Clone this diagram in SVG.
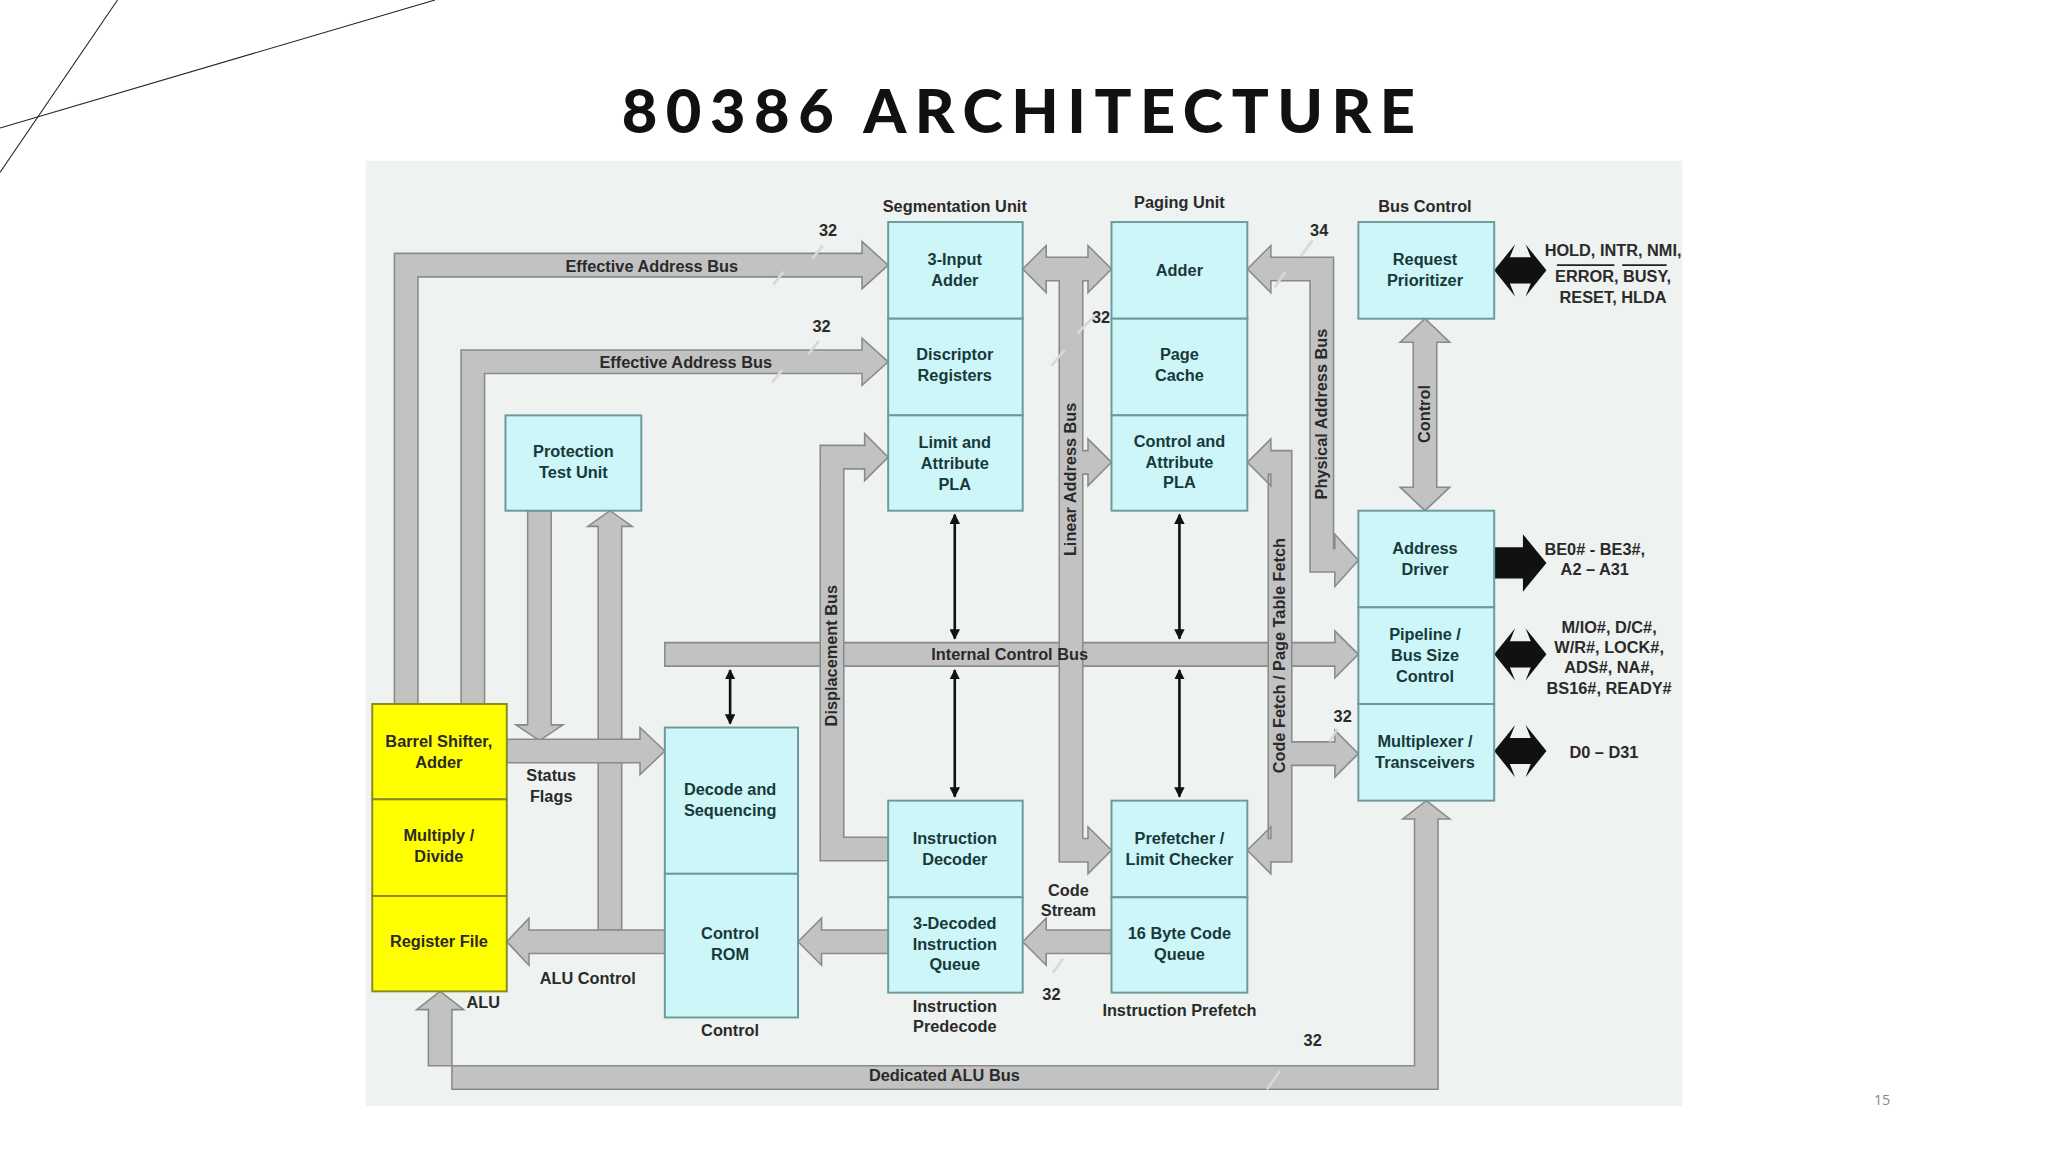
<svg xmlns="http://www.w3.org/2000/svg" width="2048" height="1152" viewBox="0 0 2048 1152">
<style>
.bx{fill:#ccf6f7;stroke:#6c9a9a;stroke-width:1.5}
.yb{fill:#ffff00;stroke:#8a8a20;stroke-width:1.5}
.bus{fill:#c2c2c2;stroke:#8a8a8a;stroke-width:1.2}
.blk{fill:#111;stroke:none}
.t{font-family:"Liberation Sans",Arial,sans-serif;font-weight:bold;font-size:12.5px;fill:#2a2a2a;text-anchor:middle}
.bt{font-family:"Liberation Sans",Arial,sans-serif;font-weight:bold;font-size:12.5px;fill:#18393a;text-anchor:middle}
.ln{stroke:#111;stroke-width:2;fill:none}
.tick{stroke:#d8d8d8;stroke-width:2}
</style>
<defs>
<marker id="ah" viewBox="0 0 10 10" refX="9" refY="5" markerWidth="4" markerHeight="4" orient="auto-start-reverse"><path d="M0,0L10,5L0,10z" fill="#111"/></marker>
</defs>
<rect width="2048" height="1152" fill="#fff"/>
<g transform="scale(1.30612)">
<line x1="90" y1="0" x2="0" y2="132" stroke="#222" stroke-width="0.8"/>
<line x1="333" y1="0" x2="0" y2="98" stroke="#222" stroke-width="0.8"/>
<text x="783" y="102" font-family="Lato,'Open Sans',sans-serif" font-weight="900" font-size="47" letter-spacing="6.5" text-anchor="middle" fill="#111">80386 ARCHITECTURE</text>
<text x="1441" y="846" font-family="'Open Sans',sans-serif" font-size="11" fill="#888" text-anchor="middle">15</text>
<rect x="280" y="123" width="1008" height="724" fill="#eef2f0"/>

<g id="connectors">
<polygon class="bus" points="302,539 302,194 660,194 660,185 680,203 660,221 660,212 320,212 320,539"/>
<polygon class="bus" points="353,539 353,268 660,268 660,259 680,277 660,295 660,286 371,286 371,539"/>
<polygon class="bus" points="404,391 422,391 422,555 431,555 413,567 395,555 404,555"/>
<polygon class="bus" points="458,712 458,403 450,403 467,391 484,403 476,403 476,712"/>
<polygon class="bus" points="509,712 509,730 405,730 405,739 388,721 405,703 405,712"/>
<polygon class="bus" points="388,566 490,566 490,557 509,575 490,593 490,584 388,584"/>
<polygon class="bus" points="509,492 1022,492 1022,483 1040,501 1022,519 1022,510 509,510"/>
<polygon class="bus" points="680,641 680,659 628,659 628,341 662,341 662,332 680,350 662,368 662,359 646,359 646,641"/>
<polygon class="bus" points="783,206 801,188 801,197 833,197 833,188 851,206 833,224 833,215 829,215 829,345 833,345 833,336 851,354 833,372 833,363 829,363 829,642 833,642 833,633 851,651 833,669 833,660 811,660 811,215 801,215 801,224"/>
<polygon class="bus" points="955,206 973,188 973,197 1021,197 1021,420 1022,420 1022,409 1040,429 1022,449 1022,438 1003,438 1003,215 973,215 973,224"/>
<polygon class="bus" points="955,354 973,336 973,345 989,345 989,568 1022,568 1022,559 1040,577 1022,595 1022,586 989,586 989,660 973,660 973,669 955,651 973,633 973,642 971,642 971,363 973,363 973,372"/>
<polygon class="bus" points="1091,244 1110,262 1100,262 1100,373 1110,373 1091,391 1072,373 1082,373 1082,262 1072,262"/>
<polygon class="bus" points="1092,613 1110,627 1101,627 1101,834 346,834 346,773 355,773 337,759 319,773 328,773 328,816 1083,816 1083,627 1074,627"/>
<polygon class="bus" points="851,712 851,730 801,730 801,739 783,721 801,703 801,712"/>
<polygon class="bus" points="680,712 680,730 629,730 629,739 611,721 629,703 629,712"/>
<line class="ln" x1="731" y1="394" x2="731" y2="489" marker-start="url(#ah)" marker-end="url(#ah)"/>
<line class="ln" x1="731" y1="513" x2="731" y2="610" marker-start="url(#ah)" marker-end="url(#ah)"/>
<line class="ln" x1="903" y1="394" x2="903" y2="489" marker-start="url(#ah)" marker-end="url(#ah)"/>
<line class="ln" x1="903" y1="513" x2="903" y2="610" marker-start="url(#ah)" marker-end="url(#ah)"/>
<line class="ln" x1="559" y1="513" x2="559" y2="554" marker-start="url(#ah)" marker-end="url(#ah)"/>
<polygon class="blk" points="1144,207 1160,187 1156,197 1172,197 1168,187 1184,207 1168,227 1172,217 1156,217 1160,227"/>
<polygon class="blk" points="1144,419 1166,419 1166,409 1184,431 1166,453 1166,443 1144,443"/>
<polygon class="blk" points="1144,501 1160,481 1156,491 1172,491 1168,481 1184,501 1168,521 1172,511 1156,511 1160,521"/>
<polygon class="blk" points="1144,575 1160,555 1156,565 1172,565 1168,555 1184,575 1168,595 1172,585 1156,585 1160,595"/>
<g class="tick">
<line x1="622" y1="198" x2="630" y2="188"/><line x1="592" y1="218" x2="600" y2="208"/>
<line x1="619" y1="271" x2="627" y2="261"/><line x1="591" y1="293" x2="599" y2="283"/>
<line x1="825" y1="255" x2="840" y2="240"/><line x1="805" y1="280" x2="815" y2="268"/>
<line x1="996" y1="196" x2="1005" y2="184"/><line x1="976" y1="220" x2="984" y2="208"/>
<line x1="1018" y1="568" x2="1024" y2="558"/>
<line x1="970" y1="834" x2="980" y2="820"/>
<line x1="806" y1="745" x2="814" y2="734"/>
</g>
</g>

<g id="seg"><rect class="bx" x="680" y="170" width="103" height="74"/><rect class="bx" x="680" y="244" width="103" height="74"/><rect class="bx" x="680" y="318" width="103" height="73"/>
<text class="bt" x="731" y="203">3-Input</text><text class="bt" x="731" y="219">Adder</text>
<text class="bt" x="731" y="276">Discriptor</text><text class="bt" x="731" y="292">Registers</text>
<text class="bt" x="731" y="343">Limit and</text><text class="bt" x="731" y="359">Attribute</text><text class="bt" x="731" y="375">PLA</text></g>
<g id="paging"><rect class="bx" x="851" y="170" width="104" height="74"/><rect class="bx" x="851" y="244" width="104" height="74"/><rect class="bx" x="851" y="318" width="104" height="73"/>
<text class="bt" x="903" y="211">Adder</text>
<text class="bt" x="903" y="276">Page</text><text class="bt" x="903" y="292">Cache</text>
<text class="bt" x="903" y="342">Control and</text><text class="bt" x="903" y="358">Attribute</text><text class="bt" x="903" y="374">PLA</text></g>
<g id="req"><rect class="bx" x="1040" y="170" width="104" height="74"/>
<text class="bt" x="1091" y="203">Request</text><text class="bt" x="1091" y="219">Prioritizer</text></g>
<g id="busunit"><rect class="bx" x="1040" y="391" width="104" height="74"/><rect class="bx" x="1040" y="465" width="104" height="74"/><rect class="bx" x="1040" y="539" width="104" height="74"/>
<text class="bt" x="1091" y="424">Address</text><text class="bt" x="1091" y="440">Driver</text>
<text class="bt" x="1091" y="490">Pipeline /</text><text class="bt" x="1091" y="506">Bus Size</text><text class="bt" x="1091" y="522">Control</text>
<text class="bt" x="1091" y="572">Multiplexer /</text><text class="bt" x="1091" y="588">Transceivers</text></g>
<g id="prot"><rect class="bx" x="387" y="318" width="104" height="73"/>
<text class="bt" x="439" y="350">Protection</text><text class="bt" x="439" y="366">Test Unit</text></g>
<g id="alu"><rect class="yb" x="285" y="539" width="103" height="73"/><rect class="yb" x="285" y="612" width="103" height="74"/><rect class="yb" x="285" y="686" width="103" height="73"/>
<text class="t" x="336" y="572">Barrel Shifter,</text><text class="t" x="336" y="588">Adder</text>
<text class="t" x="336" y="644">Multiply /</text><text class="t" x="336" y="660">Divide</text>
<text class="t" x="336" y="725">Register File</text></g>
<g id="ctrl"><rect class="bx" x="509" y="557" width="102" height="112"/><rect class="bx" x="509" y="669" width="102" height="110"/>
<text class="bt" x="559" y="609">Decode and</text><text class="bt" x="559" y="625">Sequencing</text>
<text class="bt" x="559" y="719">Control</text><text class="bt" x="559" y="735">ROM</text></g>
<g id="idec"><rect class="bx" x="680" y="613" width="103" height="74"/><rect class="bx" x="680" y="687" width="103" height="73"/>
<text class="bt" x="731" y="646">Instruction</text><text class="bt" x="731" y="662">Decoder</text>
<text class="bt" x="731" y="711">3-Decoded</text><text class="bt" x="731" y="727">Instruction</text><text class="bt" x="731" y="743">Queue</text></g>
<g id="pref"><rect class="bx" x="851" y="613" width="104" height="74"/><rect class="bx" x="851" y="687" width="104" height="73"/>
<text class="bt" x="903" y="646">Prefetcher /</text><text class="bt" x="903" y="662">Limit Checker</text>
<text class="bt" x="903" y="719">16 Byte Code</text><text class="bt" x="903" y="735">Queue</text></g>

<g id="labels">
<text class="t" x="731" y="162">Segmentation Unit</text>
<text class="t" x="903" y="159">Paging Unit</text>
<text class="t" x="1091" y="162">Bus Control</text>
<text class="t" x="499" y="208">Effective Address Bus</text>
<text class="t" x="525" y="282">Effective Address Bus</text>
<text class="t" x="773" y="505">Internal Control Bus</text>
<text class="t" x="723" y="828">Dedicated ALU Bus</text>
<text class="t" transform="translate(641,502) rotate(-90)">Displacement Bus</text>
<text class="t" transform="translate(824,367) rotate(-90)">Linear Address Bus</text>
<text class="t" transform="translate(1016,317) rotate(-90)">Physical Address Bus</text>
<text class="t" transform="translate(984,502) rotate(-90)">Code Fetch / Page Table Fetch</text>
<text class="t" transform="translate(1095,317) rotate(-90)">Control</text>
<text class="t" x="422" y="598">Status</text><text class="t" x="422" y="614">Flags</text>
<text class="t" x="450" y="753">ALU Control</text>
<text class="t" x="370" y="772">ALU</text>
<text class="t" x="559" y="793">Control</text>
<text class="t" x="731" y="775">Instruction</text><text class="t" x="731" y="790">Predecode</text>
<text class="t" x="903" y="778">Instruction Prefetch</text>
<text class="t" x="818" y="686">Code</text><text class="t" x="818" y="701">Stream</text>
<text class="t" x="634" y="181">32</text><text class="t" x="629" y="254">32</text><text class="t" x="843" y="247">32</text>
<text class="t" x="1010" y="181">34</text><text class="t" x="1028" y="553">32</text><text class="t" x="805" y="766">32</text><text class="t" x="1005" y="801">32</text>
<text class="t" x="1235" y="196">HOLD, INTR, NMI,</text>
<text class="t" x="1235" y="216">ERROR, BUSY,</text>
<line x1="1192" y1="203" x2="1236" y2="203" stroke="#222" stroke-width="1.5"/><line x1="1242" y1="203" x2="1276" y2="203" stroke="#222" stroke-width="1.5"/>
<text class="t" x="1235" y="232">RESET, HLDA</text>
<text class="t" x="1221" y="425">BE0# - BE3#,</text><text class="t" x="1221" y="440">A2 – A31</text>
<text class="t" x="1232" y="485">M/IO#, D/C#,</text><text class="t" x="1232" y="500">W/R#, LOCK#,</text><text class="t" x="1232" y="515">ADS#, NA#,</text><text class="t" x="1232" y="531">BS16#, READY#</text>
<text class="t" x="1228" y="580">D0 – D31</text>
</g>
</g>
</svg>
